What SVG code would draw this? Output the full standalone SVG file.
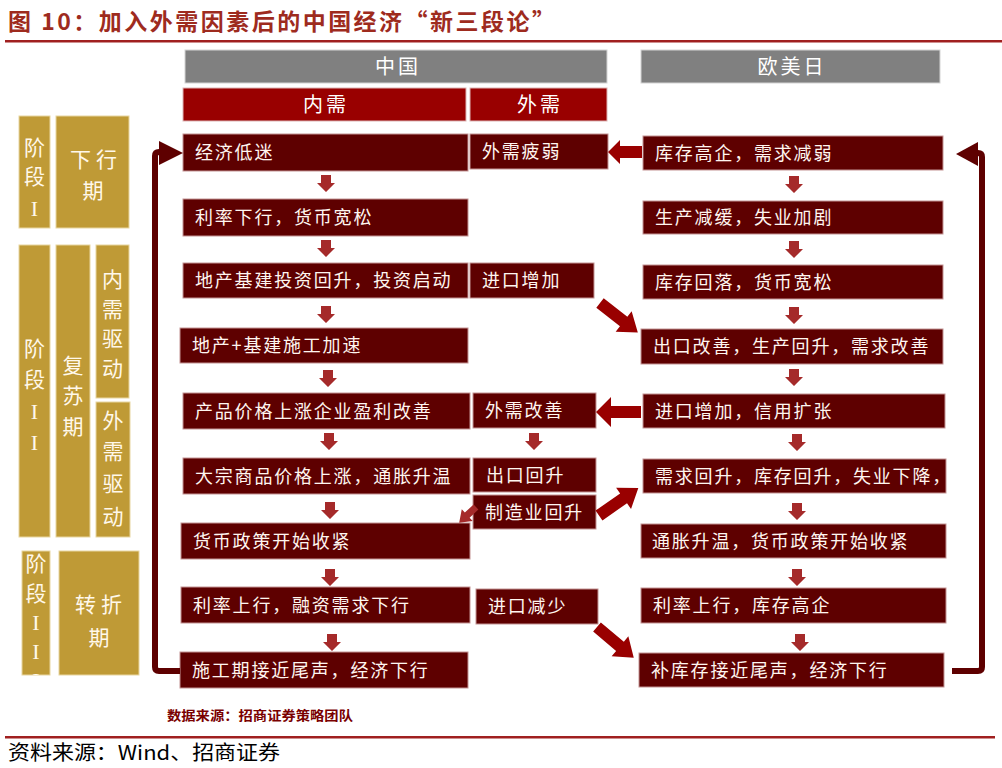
<svg xmlns="http://www.w3.org/2000/svg" width="1002" height="768" viewBox="0 0 1002 768">
<style>
.box{fill:#5E0000;stroke:#C49494;stroke-width:1}
.bt{font-family:"Noto Sans CJK SC","Noto Sans",sans-serif;font-size:18px;fill:#FFF6F0;letter-spacing:1.8px}
.hg{fill:#808080;stroke:#D4D4D4;stroke-width:1}
.hr{fill:#990000;stroke:#DDB5B5;stroke-width:1}
.ht{font-family:"Noto Sans CJK SC","Noto Sans",sans-serif;font-size:20px;fill:#FFFFFF;text-anchor:middle;letter-spacing:3px}
.ph{fill:#BF9A36;stroke:#E8D6A0;stroke-width:1}
.pt{font-family:"Noto Sans CJK SC","Noto Sans",sans-serif;font-size:21px;fill:#FFF8EA;text-anchor:middle}
.rom{font-family:"Liberation Serif",serif;font-size:22px;fill:#FFF8EA;text-anchor:middle}
.down{fill:#A52A2A}
.fat{fill:#990000}
.loop{fill:none;stroke:#5E0000;stroke-width:6}
.head{fill:#5E0000}
</style>
<defs>
<path id="dn" d="M -5 0 H 5 V 8 H 9 L 0 17 L -9 8 H -5 Z"/>
<path id="diag" d="M 0 -6 H 30 V -13 L 48 0 L 30 13 V 6 H 0 Z"/>
<path id="diagS" d="M 0 -3.5 H 12 V -8 L 23 0 L 12 8 V 3.5 H 0 Z"/>
<clipPath id="clipP7"><rect x="22" y="551" width="28" height="124"/></clipPath>
</defs>
<rect width="1002" height="768" fill="#FFFFFF"/>

<g id="title">
<text x="8" y="30" textLength="547" lengthAdjust="spacing" style="font-family:'Noto Sans CJK SC',sans-serif;font-size:23px;font-weight:bold;fill:#9E2B1E">图 10：加入外需因素后的中国经济“新三段论”</text>
<rect x="5" y="40" width="997" height="2.5" fill="#A02020"/>
</g>

<g id="headers">
<g id="h-china"><rect class="hg" x="185" y="50" width="422" height="33"/><text class="ht" x="398" y="74">中国</text></g>
<g id="h-neixu"><rect class="hr" x="183" y="88" width="283" height="33"/><text class="ht" x="326" y="112">内需</text></g>
<g id="h-waixu"><rect class="hr" x="470" y="88" width="137" height="33"/><text class="ht" x="540" y="112">外需</text></g>
<g id="h-omr"><rect class="hg" x="641" y="50" width="299" height="33"/><text class="ht" x="792" y="74">欧美日</text></g>
</g>

<g id="phases">
<g id="p1"><rect class="ph" x="19" y="116" width="31" height="112"/>
<text class="pt"><tspan x="34.5" y="155">阶</tspan><tspan x="34.5" y="184">段</tspan></text><text class="rom" x="34.5" y="216">I</text></g>
<g id="p2"><rect class="ph" x="56" y="116" width="73" height="112"/>
<text class="pt" style="text-anchor:start;letter-spacing:5px" x="70" y="167">下行</text><text class="pt" x="93" y="198">期</text></g>
<g id="p3"><rect class="ph" x="19" y="245" width="31" height="292"/>
<text class="pt"><tspan x="34.5" y="356">阶</tspan><tspan x="34.5" y="387">段</tspan></text><text class="rom"><tspan x="34.5" y="419">I</tspan><tspan x="34.5" y="450">I</tspan></text></g>
<g id="p4"><rect class="ph" x="56" y="245" width="34" height="292"/>
<text class="pt"><tspan x="73" y="373">复</tspan><tspan x="73" y="403">苏</tspan><tspan x="73" y="434">期</tspan></text></g>
<g id="p5"><rect class="ph" x="96" y="245" width="33" height="153"/>
<text class="pt"><tspan x="112.5" y="287">内</tspan><tspan x="112.5" y="317">需</tspan><tspan x="112.5" y="346">驱</tspan><tspan x="112.5" y="376">动</tspan></text></g>
<g id="p6"><rect class="ph" x="96" y="402" width="34" height="135"/>
<text class="pt"><tspan x="113" y="428">外</tspan><tspan x="113" y="459">需</tspan><tspan x="113" y="491">驱</tspan><tspan x="113" y="524">动</tspan></text></g>
<g id="p7"><rect class="ph" x="22" y="551" width="28" height="124"/>
<g clip-path="url(#clipP7)"><text class="pt"><tspan x="36" y="571">阶</tspan><tspan x="36" y="601">段</tspan></text><text class="rom"><tspan x="36" y="630">I</tspan><tspan x="36" y="659">I</tspan><tspan x="36" y="688">I</tspan></text></g></g>
<g id="p8"><rect class="ph" x="59" y="551" width="80" height="124"/>
<text class="pt" style="text-anchor:start;letter-spacing:5px" x="75" y="612">转折</text><text class="pt" x="99" y="645">期</text></g>
</g>

<g id="nodes-left">
<g id="n1"><rect class="box" x="183" y="134" width="285" height="37"/><text class="bt" x="195" y="159">经济低迷</text></g>
<g id="n2"><rect class="box" x="183" y="199" width="285" height="37"/><text class="bt" x="195" y="224">利率下行，货币宽松</text></g>
<g id="n3"><rect class="box" x="183" y="263" width="285" height="35"/><text class="bt" x="195" y="287">地产基建投资回升，投资启动</text></g>
<g id="n4"><rect class="box" x="180" y="328" width="288" height="35"/><text class="bt" x="192" y="352">地产+基建施工加速</text></g>
<g id="n5"><rect class="box" x="183" y="393" width="287" height="36"/><text class="bt" x="195" y="418">产品价格上涨企业盈利改善</text></g>
<g id="n6"><rect class="box" x="183" y="458" width="287" height="36"/><text class="bt" x="195" y="483">大宗商品价格上涨，通胀升温</text></g>
<g id="n7"><rect class="box" x="181" y="523" width="289" height="36"/><text class="bt" x="193" y="548">货币政策开始收紧</text></g>
<g id="n8"><rect class="box" x="181" y="587" width="289" height="36"/><text class="bt" x="193" y="612">利率上行，融资需求下行</text></g>
<g id="n9"><rect class="box" x="180" y="652" width="288" height="36"/><text class="bt" x="192" y="677">施工期接近尾声，经济下行</text></g>
</g>

<g id="nodes-mid">
<g id="m1"><rect class="box" x="470" y="134" width="138" height="35"/><text class="bt" x="482" y="158">外需疲弱</text></g>
<g id="m2"><rect class="box" x="470" y="263" width="124" height="35"/><text class="bt" x="482" y="287">进口增加</text></g>
<g id="m3"><rect class="box" x="473" y="393" width="123" height="35"/><text class="bt" x="485" y="417">外需改善</text></g>
<g id="m4"><rect class="box" x="473" y="458" width="123" height="34"/><text class="bt" x="486" y="481.5">出口回升</text></g>
<g id="m5"><rect class="box" x="473" y="495" width="123" height="34"/><text class="bt" x="485" y="518.5">制造业回升</text></g>
<g id="m6"><rect class="box" x="476" y="589" width="122" height="35"/><text class="bt" x="488" y="613">进口减少</text></g>
</g>

<g id="nodes-right">
<g id="r1"><rect class="box" x="643" y="136" width="300" height="34"/><text class="bt" x="655" y="159.5">库存高企，需求减弱</text></g>
<g id="r2"><rect class="box" x="643" y="201" width="300" height="33"/><text class="bt" x="655" y="224">生产减缓，失业加剧</text></g>
<g id="r3"><rect class="box" x="643" y="265" width="300" height="34"/><text class="bt" x="655" y="288.5">库存回落，货币宽松</text></g>
<g id="r4"><rect class="box" x="641" y="329" width="302" height="35"/><text class="bt" x="653" y="353">出口改善，生产回升，需求改善</text></g>
<g id="r5"><rect class="box" x="643" y="394" width="302" height="34"/><text class="bt" x="655" y="417.5">进口增加，信用扩张</text></g>
<g id="r6"><rect class="box" x="643" y="459" width="303" height="34"/><text class="bt" x="655" y="482.5">需求回升，库存回升，失业下降，</text></g>
<g id="r7"><rect class="box" x="641" y="524" width="305" height="34"/><text class="bt" x="652" y="547.5">通胀升温，货币政策开始收紧</text></g>
<g id="r8"><rect class="box" x="641" y="588" width="305" height="35"/><text class="bt" x="653" y="612">利率上行，库存高企</text></g>
<g id="r9"><rect class="box" x="639" y="653" width="305" height="34"/><text class="bt" x="651" y="676.5">补库存接近尾声，经济下行</text></g>
</g>

<g id="connectors">
<g class="down">
<use href="#dn" x="326" y="175"/>
<use href="#dn" x="326" y="240"/>
<use href="#dn" x="326" y="306"/>
<use href="#dn" x="328" y="370"/>
<use href="#dn" x="329" y="433"/>
<use href="#dn" x="330" y="502"/>
<use href="#dn" x="330" y="569"/>
<use href="#dn" x="332" y="634"/>
<use href="#dn" x="534" y="433"/>
<use href="#dn" x="794" y="176"/>
<use href="#dn" x="794" y="241"/>
<use href="#dn" x="794" y="307"/>
<use href="#dn" x="794" y="369"/>
<use href="#dn" x="797" y="434"/>
<use href="#dn" x="797" y="503"/>
<use href="#dn" x="797" y="569"/>
<use href="#dn" x="800" y="634"/>
</g>
<g class="fat">
<path d="M 642 146 H 620 V 140 L 608 152 L 620 164 V 158 H 642 Z"/>
<path d="M 641 406 H 611 V 397 L 596 412 L 611 427 V 418 H 641 Z"/>
<use href="#diag" transform="translate(600 303) rotate(38)"/>
<use href="#diag" transform="translate(599 515.5) rotate(-35)"/>
<use href="#diag" transform="translate(597 627) rotate(40)"/>
</g>
<use href="#diagS" class="down" transform="translate(476 507) rotate(137)"/>
<path class="loop" d="M 180 671 H 159 Q 155 671 155 667 V 156 Q 155 152 159 152 H 162"/>
<path class="head" d="M 159 141 L 183 153 L 159 165 Z"/>
<path class="loop" d="M 952 671 H 978 Q 982 671 982 667 V 157 Q 982 153 978 153 H 975"/>
<path class="head" d="M 978 142 L 956 154 L 978 166 Z"/>
</g>

<g id="footer">
<text x="167" y="720" textLength="186" lengthAdjust="spacingAndGlyphs" style="font-family:'Noto Sans CJK SC',sans-serif;font-size:13px;font-weight:bold;fill:#7A0000">数据来源：招商证券策略团队</text>
<rect x="5" y="736" width="990" height="2.5" fill="#A02020"/>
<text x="8" y="760" textLength="272" lengthAdjust="spacingAndGlyphs" style="font-family:'Noto Sans CJK SC',sans-serif;font-size:20px;fill:#000000">资料来源：Wind、招商证券</text>
</g>
</svg>
